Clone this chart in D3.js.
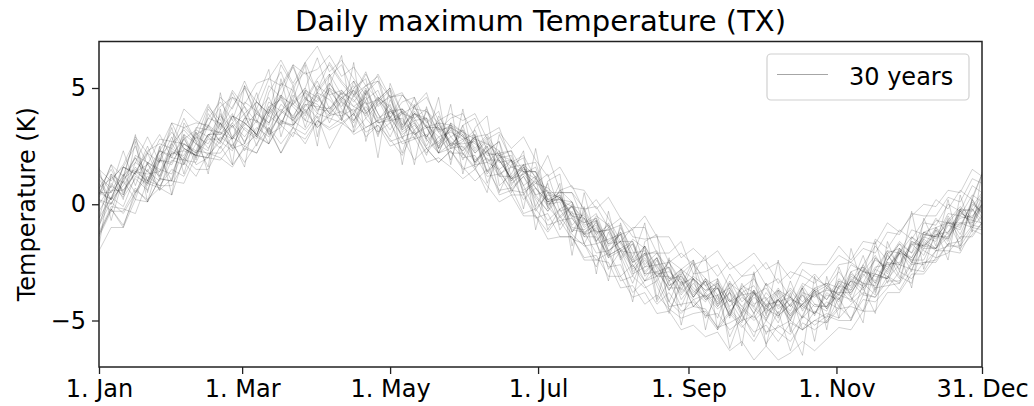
<!DOCTYPE html>
<html>
<head>
<meta charset="utf-8">
<script src="https://cdn.jsdelivr.net/npm/d3@7"></script>
<style>
  html, body { margin: 0; padding: 0; background: #fff; }
  svg { display: block; font-family: "DejaVu Sans", sans-serif; }
</style>
</head>
<body>
<div id="chart"></div>
<script>
// day of year (0 = 1. Jan), one value every 5 days
const days = [0, 5, 10, 15, 20, 25, 30, 35, 40, 45, 50, 55, 60, 65, 70, 75, 80, 85, 90, 95,
  100, 105, 110, 115, 120, 125, 130, 135, 140, 145, 150, 155, 160, 165, 170, 175, 180, 185, 190, 195,
  200, 205, 210, 215, 220, 225, 230, 235, 240, 245, 250, 255, 260, 265, 270, 275, 280, 285, 290, 295,
  300, 305, 310, 315, 320, 325, 330, 335, 340, 345, 350, 355, 360, 364];

const tickDays = [0, 59, 120, 181, 243, 304, 364];
const tickLabels = ["1. Jan", "1. Mar", "1. May", "1. Jul", "1. Sep", "1. Nov", "31. Dec"];
const yTicks = [-5, 0, 5];

// TX anomaly (K), one list per year
const year01 = [1.1, 0.2, 1.6, 2.5, 1.0, 2.4, 3.5, 2.4, 2.1, 4.1,
  3.4, 4.8, 3.8, 2.9, 4.8, 5.7, 4.3, 5.0, 6.3, 4.7,
  3.7, 5.3, 4.4, 2.9, 4.5, 3.4, 4.6, 2.7, 3.3, 1.9,
  3.4, 1.7, 2.5, 0.5, 1.7, 2.0, -0.1, 0.9, -1.1, -0.3,
  -1.7, -0.7, -2.8, -2.0, -3.1, -1.8, -4.2, -3.3, -4.4, -3.2,
  -4.9, -3.9, -5.7, -4.6, -3.7, -5.6, -4.6, -6.3, -4.8, -3.7,
  -5.1, -4.0, -5.0, -3.4, -3.9, -2.1, -3.1, -3.4, -1.6, -2.0,
  -0.7, -1.8, 0.2, -0.6];
const year02 = [-1.3, -0.2, -0.9, 0.4, 1.8, 0.6, 1.1, 2.9, 1.7, 2.0,
  3.5, 2.4, 2.6, 4.1, 3.0, 3.3, 4.9, 3.6, 3.4, 5.0,
  4.1, 3.5, 4.9, 3.6, 4.3, 2.8, 3.9, 3.7, 2.2, 3.4,
  1.9, 2.9, 1.4, 2.2, 0.8, 1.6, 0.3, -0.3, 0.6, -1.2,
  -0.6, -1.7, -1.5, -1.3, -3.0, -2.7, -2.3, -3.5, -3.2, -4.4,
  -3.8, -3.3, -4.5, -5.1, -3.8, -4.5, -4.1, -5.0, -3.5, -4.3,
  -4.6, -3.5, -3.7, -2.6, -3.4, -2.5, -3.2, -1.6, -1.9, -1.1,
  -1.6, -0.2, -0.7, 0.0];
const year03 = [1.2, 0.7, 2.3, 0.8, 2.2, 3.0, 2.0, 3.0, 1.9, 3.9,
  3.2, 4.6, 3.9, 2.5, 4.0, 5.0, 5.9, 4.6, 3.9, 5.2,
  4.4, 3.3, 4.8, 5.3, 3.6, 2.2, 3.9, 3.4, 2.2, 3.5,
  2.1, 3.0, 0.9, 2.1, 2.3, 0.4, 1.1, -1.1, -0.2, 0.1,
  -1.7, -2.7, -1.2, -2.2, -3.4, -2.1, -3.5, -4.7, -3.3, -4.4,
  -3.9, -4.9, -3.4, -4.7, -5.7, -4.3, -5.1, -3.8, -5.4, -4.6,
  -4.9, -3.5, -4.0, -4.6, -2.8, -3.1, -3.4, -1.4, -2.0, -2.3,
  -0.6, -1.5, -0.2, -0.7];
const year04 = [0.4, 1.7, 1.2, 2.9, 2.2, 1.8, 3.5, 3.3, 2.8, 4.2,
  3.6, 4.9, 4.2, 3.5, 5.1, 4.6, 6.0, 4.5, 5.4, 6.0,
  5.2, 4.6, 5.6, 4.6, 3.7, 4.7, 4.2, 4.8, 3.2, 3.7,
  3.9, 2.9, 3.0, 3.3, 1.8, 2.1, 1.1, 2.1, 0.6, 0.8,
  -0.3, 0.2, -0.6, -1.6, -1.0, -1.0, -2.1, -2.1, -1.6, -3.0,
  -2.9, -2.6, -3.6, -3.1, -2.6, -3.5, -3.2, -4.0, -2.8, -3.2,
  -3.5, -2.6, -2.5, -2.9, -1.5, -1.9, -1.1, -1.5, -0.7, 0.2,
  -0.2, 0.6, 0.2, 1.3];
const year05 = [-1.3, -0.2, -1.0, 0.6, 0.2, 0.7, 0.4, 2.0, 1.5, 1.5,
  2.5, 1.7, 2.4, 2.2, 3.3, 2.2, 3.3, 3.0, 3.8, 2.4,
  3.4, 3.9, 2.9, 3.4, 2.8, 2.1, 3.2, 2.4, 1.8, 2.3,
  1.5, 1.7, 1.8, 0.4, 0.6, 0.5, -0.5, -1.2, -0.5, -1.3,
  -1.8, -1.7, -2.7, -2.6, -3.8, -3.3, -3.1, -4.2, -4.7, -4.1,
  -4.7, -5.4, -4.7, -5.3, -4.7, -6.0, -5.2, -5.6, -4.8, -5.2,
  -4.8, -5.0, -5.0, -3.9, -4.0, -3.1, -3.7, -2.8, -2.9, -2.0,
  -2.0, -2.1, -1.1, -1.3];
const year06 = [0.2, -0.3, 1.2, 2.0, 1.0, 2.0, 1.0, 3.0, 2.6, 2.3,
  3.9, 2.9, 3.5, 4.8, 3.0, 3.9, 5.1, 3.3, 4.8, 4.5,
  3.9, 5.0, 5.4, 3.1, 4.0, 4.1, 3.1, 2.1, 3.8, 2.9,
  3.2, 1.9, 2.3, 2.7, 0.5, 1.4, 1.4, 0.0, 0.1, -1.2,
  -0.3, -1.3, -2.3, -1.0, -2.0, -3.0, -2.3, -4.2, -3.0, -2.5,
  -4.0, -3.5, -4.9, -3.4, -4.3, -4.0, -4.9, -3.3, -4.6, -3.8,
  -4.5, -3.3, -3.5, -2.2, -3.7, -2.4, -1.7, -2.5, -1.4, -1.6,
  -0.5, -1.3, -0.1, 0.5];
const year07 = [-0.6, 1.2, 0.6, 1.3, 2.5, 1.2, 2.5, 3.7, 2.7, 3.7,
  4.4, 3.6, 5.1, 4.4, 3.9, 6.0, 5.1, 5.7, 4.9, 6.1,
  5.3, 4.7, 5.7, 4.2, 4.7, 3.3, 4.0, 3.3, 2.5, 3.2,
  2.4, 2.9, 1.4, 1.9, 1.1, 1.7, -0.2, 0.4, 0.3, -1.0,
  -1.1, -0.7, -2.2, -1.9, -1.6, -3.0, -2.9, -2.7, -4.1, -3.4,
  -4.1, -3.6, -4.8, -3.6, -4.4, -3.4, -4.8, -4.3, -3.6, -4.8,
  -3.6, -4.1, -3.3, -3.9, -2.3, -2.8, -1.9, -2.5, -1.5, -0.6,
  -1.3, -0.2, -1.0, 0.0];
const year08 = [0.7, 1.5, 0.5, 1.4, 2.2, 1.1, 2.2, 2.1, 3.1, 2.4,
  3.2, 3.9, 2.6, 3.9, 4.6, 3.5, 4.4, 5.0, 4.0, 4.9,
  4.2, 4.9, 3.7, 4.3, 4.6, 3.2, 3.6, 2.5, 3.5, 2.5,
  2.8, 1.8, 2.5, 1.5, 0.6, 1.2, 0.2, -0.7, -0.2, -1.1,
  -1.2, -2.1, -2.0, -3.1, -2.6, -3.5, -4.3, -3.8, -4.6, -4.4,
  -4.5, -5.3, -4.6, -5.2, -5.9, -5.0, -5.5, -5.9, -5.1, -5.4,
  -5.0, -4.4, -4.9, -4.1, -4.2, -3.6, -2.9, -3.2, -2.5, -2.5,
  -1.7, -1.9, -1.3, -0.8];
const year09 = [-2.0, -1.0, -1.0, 0.2, 0.1, 1.1, 1.0, 2.4, 2.1, 2.0,
  2.9, 2.5, 3.5, 3.0, 4.2, 3.6, 3.3, 4.5, 4.3, 3.8,
  4.6, 3.9, 5.0, 3.9, 3.2, 4.1, 3.5, 2.9, 3.6, 2.6,
  3.0, 2.2, 2.8, 1.3, 1.6, 1.7, 0.4, 0.6, -0.6, -0.1,
  -0.6, -1.6, -0.8, -2.0, -1.7, -3.1, -2.6, -2.5, -3.5, -3.1,
  -3.5, -4.2, -3.4, -3.8, -4.7, -3.8, -4.4, -3.6, -4.2, -3.6,
  -4.1, -3.2, -3.7, -2.9, -2.2, -3.0, -2.1, -1.4, -1.8, -1.0,
  -0.8, -1.0, 0.1, -0.4];
const year10 = [0.5, 0.5, 1.6, 1.4, 1.0, 2.3, 3.1, 2.4, 2.1, 3.4,
  2.7, 3.5, 4.2, 2.9, 3.8, 4.6, 3.6, 4.4, 5.3, 4.1,
  4.8, 3.6, 4.5, 4.9, 3.6, 4.0, 2.8, 4.0, 3.1, 2.4,
  2.7, 3.2, 1.8, 2.3, 0.9, 1.3, 1.6, 0.0, 0.3, -0.5,
  -1.3, -0.8, -1.6, -1.2, -2.8, -2.3, -3.1, -2.5, -3.3, -4.0,
  -3.3, -4.3, -3.8, -4.8, -3.7, -4.4, -3.6, -4.4, -3.9, -4.7,
  -3.8, -4.2, -3.0, -3.4, -2.3, -2.9, -2.1, -2.6, -1.2, -1.4,
  -1.4, -0.4, -0.6, 0.3];
const year11 = [-0.3, 0.6, 0.6, 1.4, 1.3, 1.4, 2.2, 2.3, 2.1, 3.0,
  3.1, 2.8, 3.4, 3.9, 3.5, 4.1, 3.6, 4.3, 4.2, 4.1,
  4.6, 4.2, 4.6, 3.7, 4.0, 3.6, 3.0, 3.3, 3.3, 2.6,
  2.6, 2.7, 1.9, 1.9, 1.1, 1.3, 0.7, 0.1, 0.2, -0.5,
  -0.6, -1.2, -1.1, -2.0, -2.1, -2.0, -3.0, -2.9, -3.4, -3.2,
  -3.7, -3.6, -4.2, -3.9, -3.8, -4.3, -4.2, -4.0, -4.5, -3.9,
  -3.7, -3.8, -3.3, -3.5, -2.7, -2.6, -2.5, -1.7, -1.8, -1.3,
  -1.2, -0.6, -0.5, 0.0];
const year12 = [1.6, -0.7, 1.1, 3.0, 0.5, 2.5, 0.4, 3.5, 2.7, 1.6,
  4.8, 2.7, 1.6, 4.5, 5.8, 2.9, 4.5, 6.0, 2.9, 5.1,
  6.4, 3.1, 4.8, 2.0, 5.2, 3.9, 1.7, 4.2, 2.4, 4.3,
  1.3, 3.3, 3.8, 0.8, 1.3, 2.3, -1.1, 1.0, 1.3, -1.8,
  -0.1, -3.0, -0.3, -2.3, -4.2, -1.6, -1.3, -4.6, -3.5, -2.4,
  -5.4, -3.2, -6.2, -4.7, -2.9, -6.1, -3.8, -5.3, -6.5, -3.1,
  -5.4, -2.7, -4.0, -5.1, -1.6, -3.4, -2.1, -3.6, -0.6, -1.8,
  0.2, -2.0, 0.3, 1.3];
const year13 = [-0.8, 0.3, 1.3, 0.5, 1.5, 0.6, 2.3, 1.9, 1.8, 2.9,
  2.4, 3.4, 2.3, 3.2, 4.1, 3.4, 2.9, 4.3, 3.7, 4.2,
  3.6, 4.7, 4.0, 3.0, 4.1, 3.1, 3.5, 2.4, 2.7, 3.3,
  2.2, 1.5, 2.3, 1.2, 1.9, 0.8, -0.3, 0.5, -0.5, -0.1,
  -1.0, -0.6, -2.0, -1.6, -2.4, -1.8, -2.8, -3.7, -2.8, -3.8,
  -3.3, -4.3, -3.3, -4.2, -3.7, -4.7, -4.1, -3.7, -4.4, -3.8,
  -3.5, -3.9, -2.9, -3.6, -2.8, -2.0, -2.6, -1.8, -1.2, -1.5,
  -0.7, -0.1, -0.6, 0.2];
const year14 = [1.5, 1.0, 1.7, 2.8, 1.7, 2.8, 2.7, 4.1, 3.6, 3.3,
  4.6, 4.1, 5.3, 4.1, 5.4, 6.2, 5.2, 6.1, 6.8, 5.7,
  6.2, 5.4, 4.7, 5.6, 4.6, 4.8, 3.7, 4.1, 3.1, 3.4,
  2.9, 2.2, 2.7, 1.9, 1.1, 1.6, 0.7, 0.1, 0.4, -0.5,
  -0.8, -0.6, -1.7, -1.6, -2.5, -2.1, -2.1, -3.2, -3.1, -3.9,
  -3.2, -3.9, -3.6, -4.4, -3.9, -3.6, -4.5, -4.1, -4.3, -3.7,
  -4.1, -3.4, -3.8, -3.1, -2.4, -2.7, -2.1, -2.3, -1.3, -1.4,
  -0.8, -0.9, 0.0, -0.3];
const year15 = [-1.0, 0.9, 0.3, 1.1, 0.6, 1.9, 1.7, 2.8, 2.0, 3.0,
  2.6, 3.8, 3.2, 2.8, 4.0, 4.7, 3.7, 4.2, 4.8, 3.5,
  4.5, 3.8, 4.9, 3.9, 2.9, 4.0, 3.2, 3.7, 2.4, 2.9,
  2.3, 2.8, 1.3, 2.0, 2.1, 0.6, 1.0, 0.2, -0.9, 0.0,
  -1.4, -1.0, -1.7, -1.3, -2.9, -2.4, -3.1, -2.7, -3.8, -3.2,
  -4.1, -3.9, -4.7, -3.8, -4.5, -5.0, -4.1, -4.8, -4.3, -4.7,
  -4.2, -4.5, -3.2, -3.7, -3.0, -3.2, -2.0, -2.4, -2.4, -1.3,
  -1.5, -0.5, -0.7, -0.8];
const year16 = [0.3, 1.3, 0.9, 2.1, 1.8, 1.4, 2.6, 3.2, 2.6, 3.4,
  3.0, 3.8, 3.5, 3.0, 4.4, 4.0, 4.5, 3.8, 5.1, 4.7,
  4.9, 4.4, 5.1, 4.5, 5.0, 3.9, 4.2, 4.6, 3.6, 3.9,
  3.6, 3.9, 2.8, 3.1, 2.4, 2.9, 1.9, 1.2, 1.6, 0.7,
  0.6, -0.2, 0.3, -0.6, -1.1, -0.5, -1.4, -1.4, -2.3, -1.9,
  -2.4, -2.0, -2.8, -2.5, -2.1, -2.8, -2.5, -3.2, -2.5, -2.6,
  -2.6, -1.8, -2.4, -1.6, -1.7, -0.8, -1.2, -0.5, 0.0, -0.1,
  0.6, 0.5, 1.5, 1.2];
const year17 = [0.2, 0.0, 1.0, 0.2, 1.8, 1.5, 1.3, 2.6, 2.2, 2.8,
  2.8, 3.4, 2.7, 3.3, 2.9, 4.0, 3.6, 3.2, 3.9, 3.7,
  3.5, 3.9, 3.1, 3.4, 2.5, 2.7, 2.9, 1.8, 2.0, 1.6,
  1.1, 1.5, 0.8, 0.1, 0.4, -0.5, -0.5, -1.5, -1.4, -1.4,
  -2.4, -2.4, -2.5, -3.6, -3.5, -4.3, -3.9, -4.5, -4.9, -4.7,
  -4.6, -5.3, -5.1, -4.8, -5.5, -5.2, -5.9, -5.1, -5.4, -5.0,
  -5.1, -4.5, -4.4, -4.6, -3.6, -3.5, -3.4, -2.6, -2.5, -2.4,
  -1.7, -1.6, -0.9, -1.0];
const year18 = [0.6, 0.2, 1.6, 1.3, 0.8, 2.3, 2.0, 1.9, 3.3, 3.2,
  3.1, 2.4, 3.7, 4.4, 3.8, 3.4, 4.7, 4.0, 4.5, 5.2,
  4.5, 5.1, 3.9, 4.4, 4.9, 3.4, 3.9, 3.3, 2.4, 3.5,
  3.1, 2.3, 2.9, 1.8, 1.9, 0.5, 0.9, 1.3, -0.3, -0.1,
  -1.2, -0.9, -2.1, -1.2, -2.3, -3.3, -2.4, -3.5, -3.1, -3.7,
  -4.2, -3.4, -4.1, -5.0, -3.8, -4.6, -4.3, -5.0, -3.9, -4.4,
  -4.4, -3.6, -4.2, -2.9, -3.1, -3.2, -1.9, -2.3, -1.5, -1.9,
  -0.9, -1.1, 0.2, -0.4];
const year19 = [-1.2, -0.1, -0.2, -0.4, 1.0, 0.8, 0.8, 1.8, 1.2, 2.2,
  2.0, 1.6, 2.5, 2.2, 3.2, 2.2, 3.1, 2.8, 3.6, 3.2,
  3.5, 3.1, 3.7, 3.1, 3.5, 2.6, 2.8, 3.0, 2.2, 2.4,
  2.5, 1.8, 2.3, 1.4, 0.7, 1.2, 0.4, -0.3, 0.3, -0.6,
  -1.3, -1.1, -2.3, -2.0, -2.7, -2.1, -3.1, -3.1, -3.9, -3.2,
  -3.8, -4.4, -3.8, -4.4, -4.9, -4.1, -4.7, -4.0, -4.4, -4.7,
  -3.9, -4.1, -3.1, -3.4, -3.5, -2.5, -2.6, -1.6, -1.8, -1.9,
  -0.8, -0.8, -0.8, 0.1];
const year20 = [0.7, 1.1, 1.6, 1.3, 2.3, 2.6, 2.4, 3.3, 3.5, 3.4,
  4.2, 4.6, 4.3, 5.2, 5.4, 5.1, 6.0, 5.6, 5.8, 6.4,
  5.5, 5.9, 5.1, 5.3, 4.6, 4.7, 4.1, 4.0, 3.5, 3.4,
  3.1, 2.8, 2.6, 2.1, 1.9, 1.4, 1.1, 0.5, 0.3, -0.4,
  -0.5, -1.3, -0.9, -1.7, -2.5, -1.8, -2.7, -3.3, -2.8, -3.2,
  -3.7, -3.4, -4.4, -3.8, -3.5, -4.4, -4.1, -4.8, -3.8, -4.0,
  -3.6, -3.9, -3.3, -2.7, -3.3, -2.4, -1.7, -2.1, -1.4, -0.7,
  -0.8, -0.2, -0.3, 0.4];
const year21 = [0.4, 1.7, 0.4, 1.8, 2.9, 1.8, 2.9, 1.7, 3.2, 4.3,
  3.3, 4.2, 5.0, 3.9, 3.4, 5.2, 4.9, 6.1, 4.8, 5.5,
  6.0, 4.7, 5.1, 5.5, 3.7, 4.4, 4.6, 3.5, 4.0, 2.4,
  3.4, 3.7, 2.3, 2.7, 1.2, 1.7, 1.8, 0.2, 0.5, 0.5,
  -0.8, -0.4, -1.8, -1.3, -1.1, -2.6, -2.1, -2.8, -3.7, -2.6,
  -3.2, -4.1, -3.0, -3.9, -4.7, -3.4, -4.0, -4.6, -3.6, -3.0,
  -3.6, -2.9, -3.6, -2.6, -1.8, -2.4, -1.6, -2.1, -0.8, -0.9,
  0.0, -0.3, 0.8, 0.5];
const year22 = [-0.6, 0.3, -0.1, 1.2, 0.9, 0.7, 1.9, 1.7, 2.6, 2.1,
  2.7, 2.3, 3.3, 2.9, 2.6, 3.6, 3.4, 4.1, 3.3, 3.9,
  3.8, 4.1, 3.3, 3.6, 3.8, 2.9, 3.1, 2.2, 2.9, 2.2,
  2.2, 1.6, 2.0, 1.2, 1.2, 0.2, 0.7, -0.1, -0.7, -0.6,
  -1.4, -1.4, -2.2, -1.9, -2.6, -3.3, -2.9, -3.6, -3.6, -4.1,
  -3.9, -4.5, -4.1, -4.5, -5.0, -4.5, -4.8, -4.3, -4.9, -4.3,
  -4.4, -3.9, -4.1, -3.6, -3.0, -3.2, -2.6, -2.8, -1.9, -1.9,
  -1.4, -0.8, -1.0, -0.5];
const year23 = [0.5, 0.2, 0.8, 1.6, 0.9, 1.9, 1.8, 2.6, 2.2, 3.0,
  3.0, 3.5, 2.9, 3.6, 3.1, 3.9, 4.3, 3.9, 4.7, 3.9,
  4.4, 4.0, 4.4, 3.5, 3.7, 3.0, 3.4, 2.8, 2.2, 2.6,
  2.0, 2.1, 1.2, 1.3, 0.4, 0.4, -0.6, -0.4, -1.4, -1.4,
  -2.3, -2.2, -3.1, -3.1, -4.0, -3.8, -4.7, -4.6, -5.4, -5.2,
  -5.7, -5.5, -6.3, -5.9, -6.7, -6.1, -6.7, -6.4, -5.9, -6.3,
  -5.8, -5.3, -5.4, -4.6, -4.6, -3.8, -3.8, -3.0, -3.0, -2.3,
  -2.1, -1.4, -1.4, -0.8];
const year24 = [1.3, 0.5, 1.2, 1.8, 1.4, 2.3, 2.1, 2.8, 3.2, 2.9,
  3.8, 3.3, 3.9, 4.4, 3.9, 4.6, 4.3, 4.8, 4.4, 5.0,
  4.6, 4.9, 4.3, 4.5, 3.9, 4.1, 3.6, 3.7, 3.2, 3.3,
  2.9, 2.6, 2.2, 2.1, 1.6, 1.4, 0.9, 0.7, 0.2, -0.1,
  -0.2, -1.2, -1.1, -0.9, -2.5, -2.2, -2.0, -3.2, -2.8, -2.4,
  -3.5, -3.2, -4.2, -3.6, -3.2, -4.1, -3.7, -4.4, -3.4, -3.7,
  -3.4, -3.6, -2.6, -2.9, -3.0, -2.0, -2.1, -1.1, -1.3, -1.4,
  -0.4, -0.5, 0.4, 0.1];
const year25 = [-1.8, 1.3, 0.2, 2.7, 0.1, 1.9, 3.3, 1.3, 3.1, 1.3,
  4.1, 1.7, 5.1, 3.6, 2.6, 5.4, 3.4, 4.9, 2.5, 5.6,
  3.6, 6.1, 2.7, 4.5, 5.0, 1.7, 4.3, 2.8, 4.6, 1.7,
  4.1, 1.6, 0.5, 3.0, 1.9, -0.2, 2.4, -0.2, 0.9, -2.2,
  0.5, -1.6, -3.3, -0.8, -2.3, -0.8, -4.1, -2.3, -5.2, -3.0,
  -2.2, -5.4, -3.7, -6.1, -3.0, -4.8, -2.4, -5.5, -3.6, -5.9,
  -3.1, -4.9, -1.9, -3.6, -4.7, -1.6, -2.9, -0.3, -2.8, -1.1,
  -2.4, 0.4, -1.2, 1.4];
const year26 = [0.0, 0.8, 0.4, 1.4, 1.7, 1.2, 2.4, 2.0, 2.9, 2.6,
  3.5, 2.8, 3.7, 3.6, 3.2, 4.3, 3.8, 4.6, 4.1, 4.0,
  4.9, 4.2, 3.9, 4.5, 3.5, 3.9, 3.7, 2.9, 3.4, 2.7,
  2.3, 2.9, 1.8, 1.5, 1.9, 0.8, 1.2, 0.1, 0.4, -0.9,
  -0.4, -1.6, -1.0, -2.4, -1.7, -2.9, -2.3, -3.3, -3.0, -4.0,
  -3.3, -4.4, -3.6, -4.7, -4.0, -4.5, -3.7, -4.9, -4.3, -3.9,
  -4.4, -3.3, -3.9, -2.8, -3.4, -2.2, -2.8, -1.7, -2.2, -1.0,
  -1.5, -0.3, -0.8, 0.0];
const year27 = [-0.9, 0.1, -0.4, 0.5, 1.2, 0.8, 1.5, 1.2, 2.3, 2.2,
  2.2, 2.9, 2.5, 3.0, 2.6, 3.5, 3.4, 4.0, 3.3, 3.8,
  4.0, 3.6, 4.2, 3.5, 3.6, 3.7, 3.0, 3.4, 2.9, 3.1,
  2.8, 3.0, 2.1, 2.2, 2.3, 1.4, 1.4, 0.5, 0.5, 0.5,
  -0.2, -0.1, -1.0, -0.6, -1.4, -1.5, -1.4, -2.5, -2.1, -2.6,
  -2.4, -3.1, -2.5, -3.1, -3.0, -2.5, -3.4, -2.9, -3.1, -3.4,
  -2.8, -2.2, -2.5, -1.9, -2.1, -1.2, -1.3, -0.4, -0.5, -0.5,
  0.3, 0.1, 1.1, 0.9];
const year28 = [0.7, 0.0, 1.0, 2.0, 1.4, 1.0, 2.7, 2.6, 2.3, 3.7,
  3.5, 2.8, 4.4, 4.0, 3.5, 4.7, 4.2, 3.6, 4.9, 5.6,
  4.7, 5.3, 4.0, 4.6, 4.1, 3.2, 4.2, 3.3, 3.5, 2.5,
  3.2, 2.4, 3.0, 2.1, 1.0, 1.5, 1.4, 0.2, 0.2, 0.1,
  -0.9, -0.7, -2.0, -1.6, -1.6, -2.7, -2.6, -3.7, -2.9, -3.6,
  -4.0, -3.6, -4.6, -4.0, -4.4, -4.9, -4.1, -4.7, -4.3, -3.7,
  -4.5, -3.8, -3.8, -3.0, -3.6, -2.8, -2.0, -2.4, -1.7, -1.9,
  -1.2, -0.3, -0.9, -0.1];
const year29 = [-1.4, -0.3, -0.3, 0.7, 0.1, 1.1, 1.0, 0.9, 2.1, 2.0,
  1.9, 2.6, 1.8, 2.6, 3.3, 2.6, 3.3, 2.6, 3.6, 3.3,
  3.7, 3.0, 3.3, 3.6, 2.7, 2.9, 1.9, 2.4, 1.8, 2.3,
  1.6, 1.0, 1.5, 0.6, 0.7, -0.4, -0.2, -0.9, -0.7, -1.5,
  -1.7, -2.4, -2.1, -3.3, -3.1, -3.6, -3.3, -4.4, -4.3, -4.2,
  -4.8, -4.7, -5.4, -5.0, -4.8, -5.5, -5.3, -5.0, -5.4, -5.0,
  -4.7, -4.9, -4.3, -3.8, -4.0, -3.3, -3.3, -2.5, -2.6, -2.0,
  -1.8, -1.8, -1.0, -1.1];
const year30 = [0.9, 0.2, 1.1, 1.5, 0.9, 2.1, 2.6, 1.8, 3.0, 3.3,
  2.7, 3.8, 3.5, 3.0, 4.2, 4.5, 3.7, 4.9, 4.6, 3.9,
  4.8, 4.5, 3.8, 4.6, 4.2, 3.3, 3.9, 3.6, 2.6, 3.3,
  3.0, 1.8, 2.6, 2.3, 1.0, 1.7, 1.2, -0.1, 0.6, 0.1,
  -1.3, -0.5, -0.9, -2.3, -1.5, -1.9, -3.3, -2.4, -2.8, -4.0,
  -3.2, -3.6, -4.8, -3.5, -3.8, -5.0, -3.7, -4.0, -4.9, -3.6,
  -3.4, -4.4, -2.9, -2.7, -3.8, -2.1, -1.9, -2.9, -1.2, -1.0,
  -1.8, -0.3, -0.2, -0.9];

const years = [year01, year02, year03, year04, year05, year06, year07, year08, year09, year10,
  year11, year12, year13, year14, year15, year16, year17, year18, year19, year20,
  year21, year22, year23, year24, year25, year26, year27, year28, year29, year30];

const width = 1034, height = 406;
const margin = { top: 41.5, right: 52, bottom: 39, left: 99 };
const innerW = width - margin.left - margin.right;
const innerH = height - margin.top - margin.bottom;

const svg = d3.select("#chart").append("svg")
  .attr("width", width)
  .attr("height", height);

const x = d3.scaleLinear().domain([0, 364]).range([margin.left, margin.left + innerW]);
const y = d3.scaleLinear().domain([-7, 7]).range([margin.top + innerH, margin.top]);

svg.append("clipPath").attr("id", "plot-clip")
  .append("rect")
  .attr("x", margin.left).attr("y", margin.top)
  .attr("width", innerW).attr("height", innerH);

const line = d3.line()
  .defined((d, i) => i < days.length)
  .x((d, i) => x(days[i]))
  .y(d => y(d));

svg.append("g")
  .attr("clip-path", "url(#plot-clip)")
  .selectAll("path")
  .data(years)
  .join("path")
  .attr("d", line)
  .attr("fill", "none")
  .attr("stroke", "#000")
  .attr("stroke-opacity", 0.26)
  .attr("stroke-width", 0.7)
  .attr("stroke-linejoin", "round");

// axes
const fmt = d => d < 0 ? "\u2212" + Math.abs(d) : String(d);

const xAxis = svg.append("g")
  .attr("transform", `translate(0,${margin.top + innerH})`)
  .call(d3.axisBottom(x).tickValues(tickDays).tickFormat((d, i) => tickLabels[i]).tickSize(7).tickPadding(6).tickSizeOuter(0));

const yAxis = svg.append("g")
  .attr("transform", `translate(${margin.left},0)`)
  .call(d3.axisLeft(y).tickValues(yTicks).tickFormat(fmt).tickSize(7).tickPadding(6).tickSizeOuter(0));

[xAxis, yAxis].forEach(g => {
  g.select(".domain").remove();
  g.selectAll(".tick line").attr("stroke", "#222").attr("stroke-width", 1.3);
  g.selectAll(".tick text")
    .attr("fill", "#000")
    .style("font-size", "24px")
    .style("font-family", "DejaVu Sans, sans-serif");
});

// frame
svg.append("rect")
  .attr("x", margin.left).attr("y", margin.top)
  .attr("width", innerW).attr("height", innerH)
  .attr("fill", "none")
  .attr("stroke", "#222")
  .attr("stroke-width", 1.5);

// title
svg.append("text")
  .attr("x", margin.left + innerW / 2)
  .attr("y", 31)
  .attr("text-anchor", "middle")
  .style("font-size", "29px")
  .text("Daily maximum Temperature (TX)");

// y label
svg.append("text")
  .attr("transform", `translate(35,${margin.top + innerH / 2}) rotate(-90)`)
  .attr("text-anchor", "middle")
  .style("font-size", "24px")
  .text("Temperature (K)");

// legend
const legend = svg.append("g");
legend.append("rect")
  .attr("x", 767).attr("y", 54)
  .attr("width", 202).attr("height", 46)
  .attr("rx", 4)
  .attr("fill", "#fff")
  .attr("fill-opacity", 0.8)
  .attr("stroke", "#d0d0d0")
  .attr("stroke-width", 1.2);
legend.append("line")
  .attr("x1", 777).attr("x2", 828)
  .attr("y1", 74.5).attr("y2", 74.5)
  .attr("stroke", "#000")
  .attr("stroke-opacity", 0.35)
  .attr("stroke-width", 1);
legend.append("text")
  .attr("x", 849).attr("y", 85)
  .style("font-size", "24px")
  .text("30 years");
</script>
</body>
</html>
